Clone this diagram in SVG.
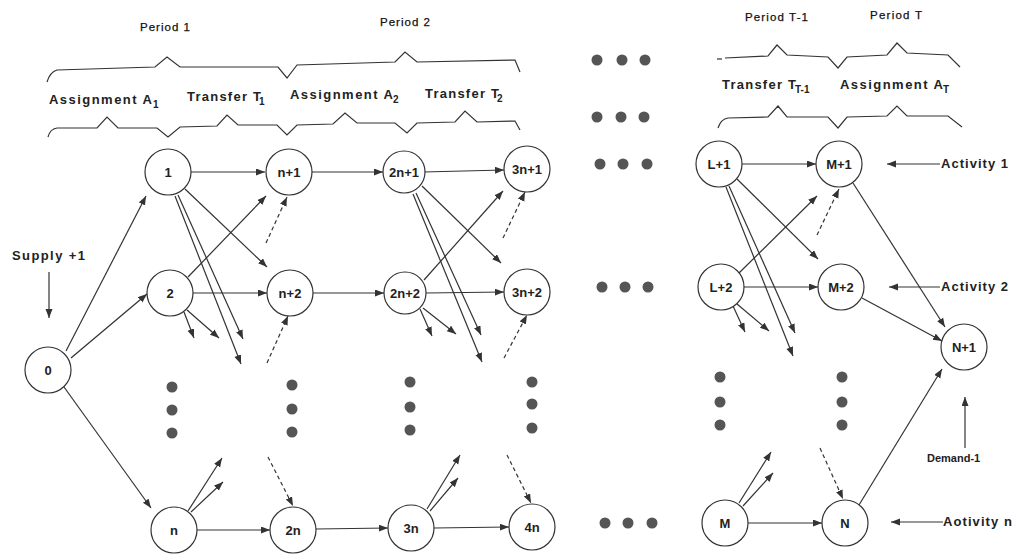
<svg xmlns="http://www.w3.org/2000/svg" width="1015" height="556" viewBox="0 0 1015 556">
<defs>
<marker id="ah" markerUnits="userSpaceOnUse" markerWidth="10" markerHeight="8" refX="9" refY="3.5" orient="auto">
<path d="M0,0 L9,3.5 L0,7 z" fill="#333"/>
</marker>
<style>
.e{stroke:#333;stroke-width:1.2;fill:none;marker-end:url(#ah)}
.d{stroke:#333;stroke-width:1.2;fill:none;stroke-dasharray:4,3;marker-end:url(#ah)}
.b{stroke:#333;stroke-width:1.2;fill:none}
.n circle{fill:#fff;stroke:#333;stroke-width:1.2}
.n text{font-family:"Liberation Sans",Arial,sans-serif;font-weight:bold;font-size:13px;fill:#222;text-anchor:middle}
.lab{font-family:"Liberation Sans",Arial,sans-serif;font-weight:bold;font-size:13px;fill:#222}
.per{font-family:"Liberation Sans",Arial,sans-serif;font-size:11.5px;fill:#111;stroke:#111;stroke-width:0.25}
.sub{font-size:10px}
.dot{fill:#555}
</style>
</defs>
<rect width="1015" height="556" fill="#fff"/>

<!-- Period labels -->
<text class="per" x="140" y="31" textLength="50">Period 1</text>
<text class="per" x="380" y="26" textLength="50">Period 2</text>
<text class="per" x="745" y="21" textLength="63">Period T-1</text>
<text class="per" x="870" y="19" textLength="52">Period T</text>

<!-- Upper braces -->
<path class="b" d="M47,82 Q50,72 57,70 L155,67 L167,57 L180,67 L278,67 L287,78 L297,65 L395,62 L405,52 L417,62 L515,60 L520,72"/>
<path class="b" d="M717,59 L722,59" />
<path class="b" d="M725,58 L768,56 L777,45 L787,55 L828,57 L838,68 L847,57 L887,55 L897,43 L907,53 L948,55 L960,67"/>

<!-- Stage labels -->
<text class="lab" x="49" y="104" textLength="103" lengthAdjust="spacing">Assignment A</text><text class="lab sub" x="153" y="108">1</text>
<text class="lab" x="187" y="101" textLength="74" lengthAdjust="spacing">Transfer T</text><text class="lab sub" x="259" y="105">1</text>
<text class="lab" x="290" y="99" textLength="103" lengthAdjust="spacing">Assignment A</text><text class="lab sub" x="393" y="103">2</text>
<text class="lab" x="425" y="98" textLength="74" lengthAdjust="spacing">Transfer T</text><text class="lab sub" x="497" y="102">2</text>
<text class="lab" x="722" y="89" textLength="74" lengthAdjust="spacing">Transfer T</text><text class="lab sub" x="795" y="93">T-1</text>
<text class="lab" x="840" y="89" textLength="103" lengthAdjust="spacing">Assignment A</text><text class="lab sub" x="943" y="93">T</text>

<!-- Lower braces -->
<path class="b" d="M48,137 Q50,129 57,128 L97,128 L107,117 L118,128 L157,128 L168,137 L180,127 L217,126 L227,115 L238,125 L277,125 L287,135 L297,125 L333,124 L345,113 L357,123 L395,123 L407,133 L417,123 L455,122 L465,111 L477,122 L515,121 L520,130"/>
<path class="b" d="M718,128 Q721,119 728,118 L768,117 L778,106 L787,117 L828,117 L838,128 L847,117 L887,116 L897,106 L907,116 L948,116 L962,127"/>

<!-- Ellipsis dots -->
<g id="dots">
<circle class="dot" cx="597" cy="60" r="5.5"/><circle class="dot" cx="622" cy="60" r="5.5"/><circle class="dot" cx="645" cy="60" r="5.5"/>
<circle class="dot" cx="597" cy="117" r="5.5"/><circle class="dot" cx="621" cy="117" r="5.5"/><circle class="dot" cx="644" cy="117" r="5.5"/>
<circle class="dot" cx="600" cy="164" r="5.5"/><circle class="dot" cx="623" cy="164" r="5.5"/><circle class="dot" cx="647" cy="164" r="5.5"/>
<circle class="dot" cx="602" cy="287" r="5.5"/><circle class="dot" cx="625" cy="287" r="5.5"/><circle class="dot" cx="648" cy="287" r="5.5"/>
<circle class="dot" cx="605" cy="523" r="5.5"/><circle class="dot" cx="628" cy="523" r="5.5"/><circle class="dot" cx="652" cy="523" r="5.5"/>
<circle class="dot" cx="172" cy="387" r="5.5"/><circle class="dot" cx="172" cy="410" r="5.5"/><circle class="dot" cx="172" cy="433" r="5.5"/>
<circle class="dot" cx="292" cy="385" r="5.5"/><circle class="dot" cx="292" cy="409" r="5.5"/><circle class="dot" cx="292" cy="432" r="5.5"/>
<circle class="dot" cx="410" cy="382" r="5.5"/><circle class="dot" cx="410" cy="407" r="5.5"/><circle class="dot" cx="410" cy="430" r="5.5"/>
<circle class="dot" cx="532" cy="382" r="5.5"/><circle class="dot" cx="532" cy="404" r="5.5"/><circle class="dot" cx="532" cy="428" r="5.5"/>
<circle class="dot" cx="720" cy="377" r="5.5"/><circle class="dot" cx="720" cy="402" r="5.5"/><circle class="dot" cx="720" cy="425" r="5.5"/>
<circle class="dot" cx="842" cy="377" r="5.5"/><circle class="dot" cx="842" cy="402" r="5.5"/><circle class="dot" cx="842" cy="425" r="5.5"/>
</g>

<!-- Connectors -->
<g id="connectors">
<line class="e" x1="66" y1="351" x2="146" y2="196"/>
<line class="e" x1="71" y1="358" x2="147" y2="294"/>
<line class="e" x1="64" y1="387" x2="151" y2="508"/>
<line class="e" x1="191" y1="172" x2="265" y2="172"/>
<line class="e" x1="185" y1="189" x2="267" y2="267"/>
<line class="e" x1="178" y1="195" x2="243" y2="339"/>
<line class="e" x1="175" y1="196" x2="241" y2="364"/>
<line class="e" x1="188" y1="277" x2="266" y2="196"/>
<line class="e" x1="193" y1="293" x2="267" y2="293"/>
<line class="e" x1="184" y1="312" x2="194" y2="338"/>
<line class="e" x1="187" y1="310" x2="219" y2="338"/>
<line class="d" x1="266" y1="243" x2="287" y2="197"/>
<line class="d" x1="267" y1="363" x2="288" y2="316"/>
<line class="e" x1="312" y1="172" x2="383" y2="172"/>
<line class="e" x1="313" y1="293" x2="384" y2="293"/>
<line class="e" x1="423" y1="172" x2="504" y2="170"/>
<line class="e" x1="422" y1="186" x2="501" y2="263"/>
<line class="e" x1="416" y1="193" x2="481" y2="335"/>
<line class="e" x1="413" y1="194" x2="482" y2="362"/>
<line class="e" x1="424" y1="280" x2="503" y2="191"/>
<line class="e" x1="426" y1="293" x2="504" y2="292"/>
<line class="e" x1="420" y1="309" x2="432" y2="336"/>
<line class="e" x1="423" y1="308" x2="456" y2="334"/>
<line class="d" x1="503" y1="238" x2="525" y2="192"/>
<line class="d" x1="504" y1="358" x2="527" y2="315"/>
<line class="e" x1="197" y1="530" x2="270" y2="530"/>
<line class="e" x1="188" y1="511" x2="222" y2="458"/>
<line class="e" x1="191" y1="512" x2="223" y2="482"/>
<line class="d" x1="268" y1="457" x2="293" y2="506"/>
<line class="e" x1="316" y1="529" x2="388" y2="528"/>
<line class="e" x1="427" y1="509" x2="460" y2="455"/>
<line class="e" x1="430" y1="511" x2="458" y2="478"/>
<line class="d" x1="507" y1="455" x2="531" y2="503"/>
<line class="e" x1="434" y1="528" x2="509" y2="527"/>
<line class="e" x1="742" y1="164" x2="816" y2="164"/>
<line class="e" x1="737" y1="179" x2="818" y2="259"/>
<line class="e" x1="729" y1="186" x2="795" y2="333"/>
<line class="e" x1="726" y1="187" x2="793" y2="356"/>
<line class="e" x1="739" y1="273" x2="817" y2="196"/>
<line class="e" x1="744" y1="287" x2="818" y2="287"/>
<line class="e" x1="733" y1="306" x2="745" y2="332"/>
<line class="e" x1="737" y1="304" x2="769" y2="331"/>
<line class="d" x1="817" y1="235" x2="839" y2="189"/>
<line class="e" x1="853" y1="183" x2="945" y2="327"/>
<line class="e" x1="862" y1="298" x2="942" y2="341"/>
<line class="e" x1="739" y1="503" x2="771" y2="452"/>
<line class="e" x1="743" y1="506" x2="773" y2="473"/>
<line class="e" x1="748" y1="523" x2="822" y2="523"/>
<line class="d" x1="820" y1="448" x2="843" y2="499"/>
<line class="e" x1="859" y1="505" x2="942" y2="369"/>
<line class="e" x1="940" y1="164" x2="887" y2="164"/>
<line class="e" x1="940" y1="287" x2="889" y2="287"/>
<line class="e" x1="943" y1="522" x2="891" y2="522"/>
<line class="e" x1="965" y1="448" x2="965" y2="397"/>
<line class="e" x1="49" y1="272" x2="49" y2="318"/>
</g>

<!-- External labels -->
<text class="lab" x="12" y="260" textLength="73" lengthAdjust="spacing">Supply +1</text>
<text class="lab" x="941" y="168" textLength="67" lengthAdjust="spacing">Activity 1</text>
<text class="lab" x="941" y="291" textLength="67" lengthAdjust="spacing">Activity 2</text>
<text class="lab" x="943" y="526" textLength="69" lengthAdjust="spacing">Aotivity n</text>
<text class="lab" x="927" y="462" style="font-size:11px">Demand-1</text>

<!-- Nodes -->
<g id="node-0" class="n"><circle cx="48" cy="370" r="23"/><text x="48" y="375">0</text></g>
<g id="node-1" class="n"><circle cx="168" cy="172" r="23"/><text x="168" y="177">1</text></g>
<g id="node-2" class="n"><circle cx="170" cy="293" r="23"/><text x="170" y="298">2</text></g>
<g id="node-n" class="n"><circle cx="174" cy="530" r="23"/><text x="174" y="535">n</text></g>
<g id="node-n1" class="n"><circle cx="289" cy="172" r="23"/><text x="289" y="177">n+1</text></g>
<g id="node-n2" class="n"><circle cx="290" cy="293" r="23"/><text x="290" y="298">n+2</text></g>
<g id="node-2n" class="n"><circle cx="293" cy="530" r="23"/><text x="293" y="535">2n</text></g>
<g id="node-2n1" class="n"><circle cx="404" cy="172" r="21"/><text x="404" y="177">2n+1</text></g>
<g id="node-2n2" class="n"><circle cx="405" cy="293" r="21"/><text x="405" y="298">2n+2</text></g>
<g id="node-3n" class="n"><circle cx="411" cy="528" r="23"/><text x="411" y="533">3n</text></g>
<g id="node-3n1" class="n"><circle cx="527" cy="169" r="23"/><text x="527" y="174">3n+1</text></g>
<g id="node-3n2" class="n"><circle cx="527" cy="292" r="23"/><text x="527" y="297">3n+2</text></g>
<g id="node-4n" class="n"><circle cx="532" cy="527" r="23"/><text x="532" y="532">4n</text></g>
<g id="node-L1" class="n"><circle cx="719" cy="164" r="23"/><text x="719" y="169">L+1</text></g>
<g id="node-L2" class="n"><circle cx="721" cy="287" r="23"/><text x="721" y="292">L+2</text></g>
<g id="node-M" class="n"><circle cx="725" cy="523" r="23"/><text x="725" y="528">M</text></g>
<g id="node-M1" class="n"><circle cx="839" cy="164" r="23"/><text x="839" y="169">M+1</text></g>
<g id="node-M2" class="n"><circle cx="841" cy="287" r="23"/><text x="841" y="292">M+2</text></g>
<g id="node-N" class="n"><circle cx="845" cy="523" r="23"/><text x="845" y="528">N</text></g>
<g id="node-N1" class="n"><circle cx="964" cy="347" r="23"/><text x="964" y="352">N+1</text></g>
</svg>
